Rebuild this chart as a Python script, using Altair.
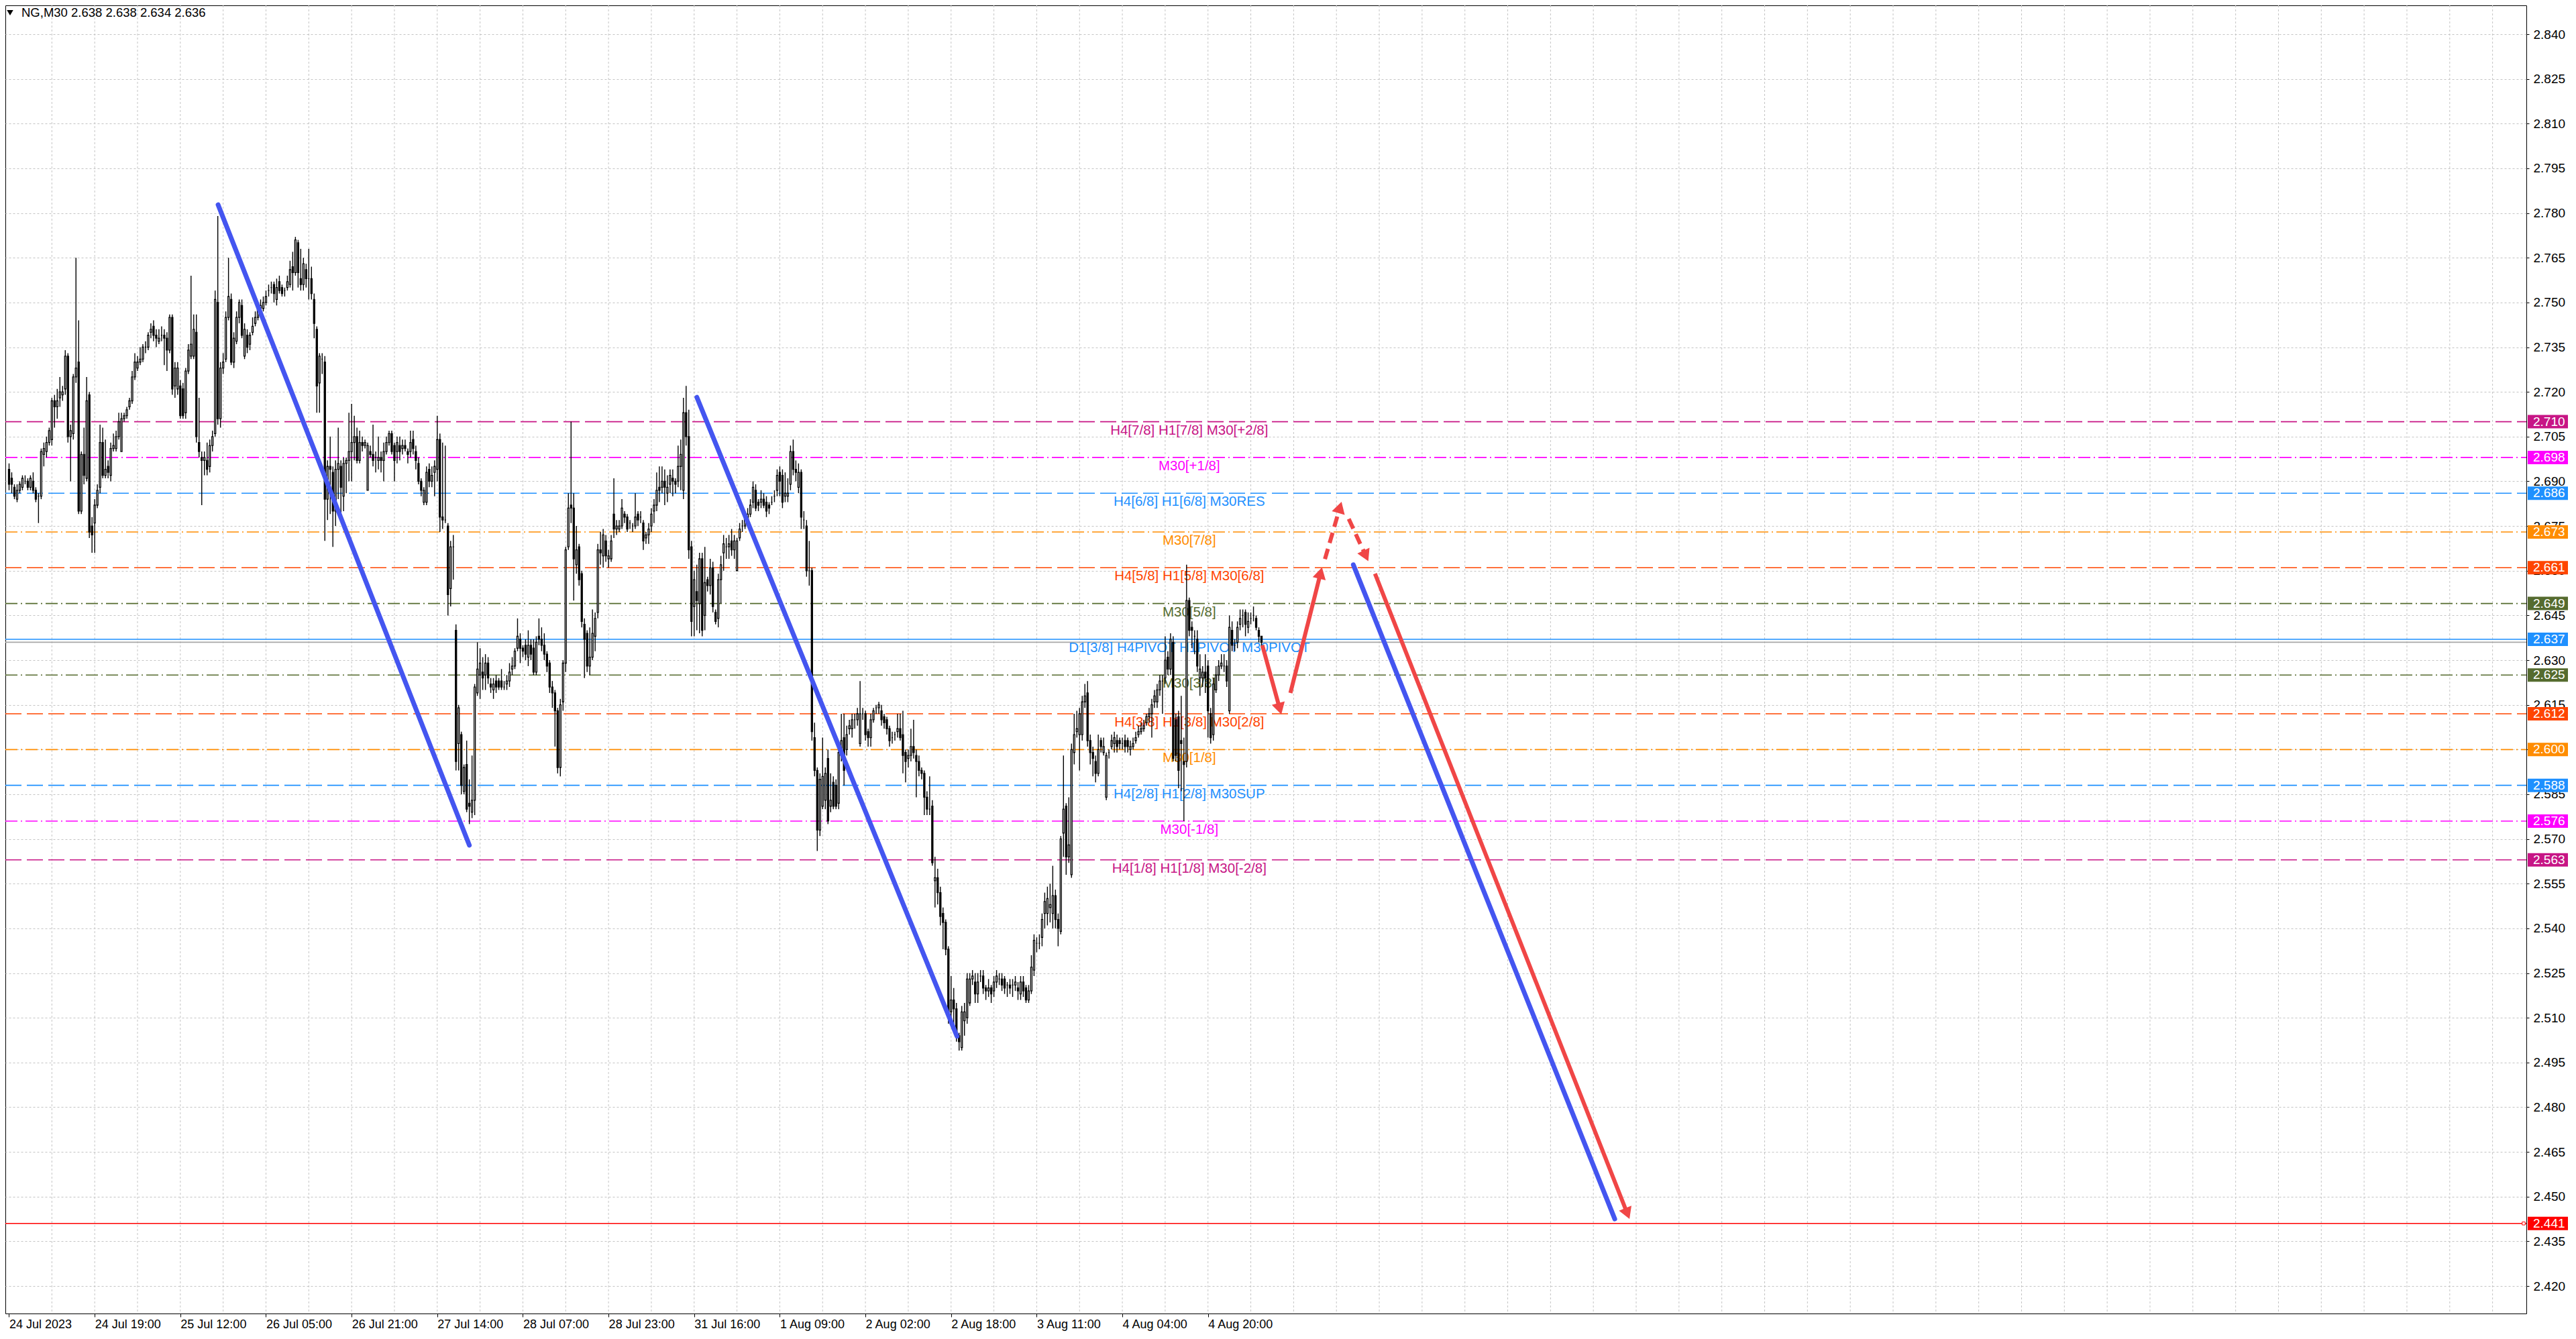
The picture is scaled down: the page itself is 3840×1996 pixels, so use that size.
import json
import math
import altair as alt
import pandas as pd

# ---------------- data ----------------
title_text = "NG,M30  2.638 2.638 2.634 2.636"

# OHLC of the M30 bars, in thousandths of a dollar (2694 = 2.694)
open_k = [
    2694, 2691, 2688, 2684, 2687, 2688, 2690, 2690, 2688, 2690,
    2687, 2685, 2685, 2699, 2700, 2703, 2704, 2717, 2715, 2718,
    2719, 2721, 2732, 2705, 2706, 2725, 2730, 2680, 2699, 2691,
    2719, 2675, 2676, 2682, 2688, 2703, 2692, 2695, 2692, 2701,
    2701, 2705, 2700, 2711, 2712, 2715, 2717, 2725, 2728, 2730,
    2731, 2735, 2735, 2740, 2742, 2739, 2737, 2739, 2739, 2738,
    2734, 2745, 2722, 2721, 2722, 2721, 2713, 2727, 2732, 2732,
    2740, 2703, 2698, 2697, 2697, 2695, 2702, 2706, 2750, 2711,
    2728, 2731, 2745, 2751, 2730, 2737, 2745, 2749, 2732, 2739,
    2736, 2740, 2743, 2745, 2748, 2748, 2750, 2754, 2755, 2756,
    2751, 2757, 2755, 2754, 2755, 2756, 2762, 2760, 2770, 2758,
    2756, 2761, 2758, 2758, 2751, 2741, 2723, 2731, 2730, 2684,
    2695, 2693, 2680, 2694, 2695, 2685, 2696, 2697, 2700, 2703,
    2705, 2697, 2703, 2702, 2687, 2700, 2699, 2698, 2697, 2698,
    2697, 2700, 2703, 2706, 2702, 2700, 2702, 2701, 2702, 2700,
    2700, 2704, 2700, 2696, 2690, 2683, 2683, 2694, 2690, 2693,
    2694, 2704, 2678, 2677, 2675, 2654, 2668, 2640, 2602, 2605,
    2586, 2595, 2582, 2579, 2583, 2619, 2625, 2626, 2625, 2629,
    2622, 2620, 2623, 2623, 2623, 2621, 2622, 2623, 2627, 2628,
    2634, 2637, 2634, 2635, 2631, 2635, 2634, 2626, 2638, 2637,
    2635, 2632, 2629, 2621, 2619, 2613, 2594, 2616, 2629, 2668,
    2682, 2681, 2662, 2668, 2659, 2642, 2639, 2628, 2631, 2638,
    2646, 2667, 2665, 2670, 2664, 2664, 2679, 2674, 2674, 2675,
    2679, 2678, 2676, 2675, 2675, 2679, 2678, 2676, 2671, 2672,
    2675, 2680, 2682, 2688, 2688, 2690, 2686, 2689, 2691, 2690,
    2690, 2695, 2687, 2713, 2705, 2668, 2648, 2653, 2649, 2664,
    2645, 2657, 2655, 2661, 2646, 2644, 2657, 2666, 2668, 2668,
    2670, 2667, 2660, 2671, 2675, 2675, 2677, 2679, 2683, 2687,
    2683, 2683, 2684, 2683, 2682, 2683, 2685, 2687, 2693, 2692,
    2685, 2685, 2689, 2700, 2694, 2688, 2693, 2677, 2675, 2660,
    2660, 2604, 2593, 2573, 2581, 2583, 2597, 2581, 2589, 2588,
    2582, 2598, 2604, 2600, 2607, 2607, 2610, 2610, 2602, 2612,
    2612, 2606, 2604, 2610, 2614, 2614, 2613, 2611, 2610, 2607,
    2604, 2605, 2606, 2607, 2605, 2599, 2597, 2598, 2601, 2598,
    2596, 2593, 2592, 2584, 2580, 2581, 2556, 2557, 2552, 2545,
    2542, 2533, 2512, 2516, 2513, 2504, 2500, 2509, 2510, 2515,
    2523, 2522, 2518, 2524, 2524, 2520, 2519, 2520, 2519, 2522,
    2523, 2523, 2523, 2521, 2521, 2521, 2521, 2520, 2518, 2522,
    2520, 2516, 2519, 2526, 2535, 2535, 2537, 2545, 2545, 2547,
    2545, 2551, 2543, 2539, 2572, 2581, 2564, 2558, 2599, 2606,
    2605, 2605, 2616, 2619, 2603, 2599, 2596, 2592, 2603, 2599,
    2584, 2599, 2601, 2602, 2603, 2603, 2602, 2603, 2603, 2600,
    2601, 2603, 2605, 2606, 2607, 2609, 2611, 2612, 2616, 2616,
    2620, 2623, 2624, 2631, 2627, 2636, 2610, 2611, 2603, 2596,
    2596, 2650, 2641, 2638, 2637, 2624, 2624, 2626, 2628, 2612,
    2605, 2620, 2625, 2628, 2628, 2628, 2613, 2640, 2635, 2636,
    2642, 2645, 2646, 2641, 2644, 2645, 2644, 2640, 2638,
]
high_k = [
    2696, 2693, 2689, 2689, 2690, 2692, 2692, 2691, 2692, 2693,
    2688, 2686, 2701, 2703, 2705, 2708, 2718, 2719, 2721, 2725,
    2722, 2734, 2733, 2709, 2726, 2765, 2744, 2700, 2708, 2725,
    2720, 2678, 2684, 2689, 2709, 2708, 2704, 2697, 2703, 2706,
    2707, 2713, 2713, 2713, 2715, 2718, 2727, 2733, 2732, 2735,
    2736, 2737, 2740, 2743, 2744, 2741, 2741, 2742, 2741, 2740,
    2746, 2746, 2730, 2730, 2724, 2723, 2728, 2736, 2759, 2746,
    2746, 2718, 2700, 2700, 2703, 2704, 2707, 2754, 2779, 2730,
    2733, 2747, 2765, 2753, 2740, 2747, 2751, 2751, 2743, 2741,
    2740, 2745, 2747, 2749, 2751, 2752, 2754, 2756, 2757, 2757,
    2758, 2759, 2756, 2755, 2759, 2764, 2767, 2772, 2771, 2768,
    2765, 2763, 2768, 2762, 2753, 2742, 2733, 2733, 2732, 2697,
    2705, 2695, 2697, 2708, 2697, 2698, 2698, 2713, 2716, 2712,
    2708, 2707, 2705, 2704, 2703, 2702, 2709, 2700, 2705, 2700,
    2703, 2705, 2707, 2707, 2703, 2705, 2705, 2704, 2704, 2701,
    2707, 2707, 2702, 2698, 2691, 2688, 2695, 2696, 2695, 2697,
    2712, 2706, 2703, 2702, 2676, 2670, 2672, 2642, 2615, 2606,
    2595, 2603, 2590, 2598, 2622, 2636, 2634, 2631, 2632, 2631,
    2624, 2624, 2625, 2624, 2627, 2623, 2625, 2629, 2631, 2634,
    2644, 2639, 2635, 2637, 2640, 2637, 2637, 2638, 2644, 2641,
    2639, 2633, 2630, 2623, 2620, 2614, 2617, 2630, 2668, 2686,
    2710, 2686, 2675, 2669, 2660, 2644, 2640, 2641, 2647, 2646,
    2669, 2673, 2674, 2672, 2667, 2672, 2691, 2677, 2677, 2684,
    2680, 2679, 2677, 2676, 2686, 2680, 2680, 2677, 2673, 2676,
    2681, 2684, 2693, 2695, 2695, 2694, 2692, 2694, 2694, 2691,
    2702, 2704, 2718, 2722, 2714, 2670, 2660, 2662, 2666, 2666,
    2668, 2658, 2664, 2663, 2647, 2659, 2665, 2672, 2671, 2672,
    2674, 2672, 2671, 2676, 2677, 2680, 2681, 2684, 2690, 2689,
    2684, 2687, 2686, 2685, 2683, 2685, 2687, 2694, 2695, 2694,
    2693, 2691, 2702, 2704, 2697, 2696, 2694, 2680, 2677, 2670,
    2661, 2609, 2594, 2592, 2604, 2594, 2600, 2592, 2591, 2590,
    2601, 2612, 2612, 2608, 2610, 2612, 2612, 2614, 2623, 2614,
    2613, 2607, 2612, 2614, 2615, 2616, 2615, 2612, 2611, 2608,
    2606, 2606, 2612, 2612, 2613, 2600, 2600, 2607, 2610, 2600,
    2598, 2594, 2593, 2586, 2591, 2583, 2564, 2560, 2554, 2547,
    2543, 2534, 2524, 2520, 2515, 2505, 2514, 2515, 2525, 2525,
    2526, 2525, 2525, 2526, 2526, 2521, 2523, 2521, 2524, 2526,
    2525, 2525, 2524, 2522, 2523, 2523, 2524, 2522, 2524, 2524,
    2521, 2521, 2531, 2538, 2537, 2538, 2545, 2552, 2554, 2555,
    2561, 2553, 2545, 2571, 2598, 2582, 2584, 2602, 2612, 2613,
    2614, 2618, 2622, 2623, 2605, 2601, 2598, 2605, 2604, 2604,
    2599, 2600, 2605, 2606, 2605, 2604, 2604, 2605, 2604, 2603,
    2604, 2606, 2608, 2609, 2610, 2612, 2614, 2617, 2620, 2622,
    2625, 2625, 2638, 2633, 2639, 2638, 2612, 2613, 2618, 2604,
    2662, 2651, 2643, 2640, 2640, 2632, 2628, 2632, 2630, 2614,
    2624, 2628, 2630, 2632, 2632, 2630, 2645, 2643, 2637, 2643,
    2647, 2647, 2647, 2646, 2646, 2648, 2645, 2641, 2638,
]
low_k = [
    2687, 2686, 2684, 2683, 2686, 2687, 2689, 2687, 2687, 2686,
    2683, 2676, 2684, 2695, 2698, 2702, 2702, 2708, 2711, 2715,
    2717, 2719, 2703, 2690, 2704, 2723, 2679, 2679, 2689, 2690,
    2671, 2666, 2666, 2681, 2686, 2691, 2691, 2691, 2690, 2700,
    2700, 2704, 2700, 2710, 2711, 2714, 2716, 2724, 2727, 2729,
    2730, 2733, 2734, 2738, 2737, 2735, 2736, 2737, 2729, 2727,
    2733, 2719, 2718, 2719, 2711, 2711, 2711, 2726, 2731, 2731,
    2703, 2698, 2682, 2692, 2692, 2693, 2700, 2705, 2709, 2708,
    2726, 2730, 2744, 2729, 2728, 2736, 2743, 2738, 2731, 2733,
    2734, 2739, 2742, 2744, 2747, 2747, 2749, 2752, 2753, 2750,
    2749, 2753, 2752, 2752, 2754, 2755, 2754, 2759, 2755, 2754,
    2754, 2755, 2751, 2751, 2738, 2713, 2713, 2726, 2670, 2677,
    2679, 2668, 2675, 2684, 2679, 2680, 2686, 2690, 2690, 2697,
    2696, 2696, 2700, 2701, 2687, 2698, 2695, 2693, 2694, 2693,
    2690, 2699, 2702, 2699, 2690, 2696, 2697, 2699, 2700, 2696,
    2698, 2699, 2694, 2689, 2685, 2682, 2682, 2688, 2688, 2685,
    2690, 2673, 2674, 2676, 2645, 2648, 2657, 2593, 2593, 2585,
    2585, 2579, 2575, 2577, 2578, 2618, 2617, 2620, 2620, 2622,
    2619, 2617, 2619, 2620, 2620, 2620, 2620, 2621, 2625, 2627,
    2633, 2629, 2631, 2630, 2628, 2630, 2625, 2625, 2635, 2633,
    2630, 2626, 2619, 2614, 2601, 2592, 2591, 2613, 2626, 2667,
    2676, 2650, 2659, 2655, 2641, 2624, 2626, 2625, 2630, 2633,
    2644, 2662, 2661, 2663, 2661, 2663, 2671, 2672, 2673, 2674,
    2676, 2673, 2674, 2673, 2674, 2675, 2676, 2667, 2669, 2669,
    2673, 2676, 2680, 2683, 2686, 2682, 2683, 2686, 2685, 2686,
    2688, 2687, 2684, 2702, 2664, 2638, 2638, 2640, 2639, 2638,
    2640, 2653, 2652, 2646, 2642, 2641, 2649, 2660, 2664, 2664,
    2665, 2664, 2660, 2670, 2673, 2674, 2675, 2678, 2681, 2680,
    2680, 2681, 2681, 2678, 2679, 2682, 2683, 2685, 2685, 2681,
    2683, 2683, 2687, 2692, 2690, 2686, 2674, 2674, 2658, 2655,
    2603, 2591, 2566, 2571, 2580, 2580, 2575, 2579, 2580, 2580,
    2580, 2596, 2588, 2598, 2605, 2604, 2607, 2608, 2601, 2610,
    2603, 2601, 2601, 2609, 2612, 2612, 2608, 2607, 2605, 2601,
    2602, 2603, 2604, 2603, 2592, 2589, 2594, 2596, 2597, 2584,
    2591, 2590, 2578, 2578, 2578, 2561, 2547, 2548, 2541, 2533,
    2531, 2508, 2510, 2505, 2502, 2499, 2499, 2504, 2508, 2514,
    2521, 2515, 2515, 2522, 2518, 2516, 2517, 2515, 2517, 2520,
    2521, 2519, 2518, 2517, 2518, 2517, 2519, 2516, 2516, 2517,
    2515, 2515, 2518, 2524, 2532, 2533, 2534, 2540, 2541, 2542,
    2540, 2540, 2534, 2538, 2564, 2558, 2562, 2557, 2595, 2604,
    2593, 2603, 2614, 2601, 2595, 2591, 2589, 2591, 2599, 2598,
    2583, 2597, 2600, 2599, 2599, 2600, 2600, 2599, 2599, 2598,
    2600, 2602, 2604, 2605, 2606, 2608, 2609, 2604, 2614, 2614,
    2618, 2612, 2622, 2625, 2625, 2596, 2596, 2587, 2586, 2576,
    2594, 2638, 2634, 2632, 2626, 2618, 2621, 2619, 2604, 2602,
    2603, 2619, 2623, 2627, 2626, 2621, 2612, 2633, 2633, 2634,
    2640, 2641, 2638, 2639, 2642, 2643, 2640, 2636, 2634,
]
close_k = [
    2689, 2689, 2685, 2687, 2689, 2691, 2690, 2688, 2691, 2687,
    2684, 2685, 2700, 2701, 2703, 2707, 2717, 2715, 2717, 2720,
    2720, 2732, 2705, 2707, 2725, 2728, 2680, 2699, 2692, 2717,
    2673, 2672, 2682, 2687, 2703, 2692, 2694, 2693, 2701, 2702,
    2705, 2710, 2711, 2712, 2714, 2717, 2725, 2730, 2730, 2731,
    2735, 2735, 2739, 2741, 2739, 2738, 2738, 2739, 2738, 2734,
    2745, 2721, 2728, 2728, 2712, 2712, 2727, 2734, 2736, 2741,
    2705, 2700, 2697, 2698, 2694, 2702, 2705, 2751, 2711, 2728,
    2730, 2745, 2752, 2730, 2738, 2745, 2750, 2739, 2741, 2735,
    2739, 2742, 2745, 2748, 2749, 2750, 2752, 2754, 2755, 2753,
    2755, 2754, 2753, 2754, 2757, 2761, 2760, 2771, 2760, 2756,
    2763, 2758, 2758, 2753, 2743, 2722, 2732, 2731, 2684, 2695,
    2694, 2680, 2694, 2696, 2688, 2696, 2697, 2700, 2703, 2705,
    2697, 2703, 2702, 2703, 2702, 2699, 2697, 2698, 2698, 2697,
    2700, 2703, 2706, 2700, 2697, 2703, 2700, 2702, 2701, 2699,
    2703, 2701, 2697, 2690, 2687, 2687, 2693, 2690, 2692, 2695,
    2704, 2678, 2677, 2677, 2652, 2668, 2668, 2596, 2614, 2588,
    2594, 2580, 2581, 2583, 2621, 2627, 2629, 2624, 2629, 2624,
    2621, 2622, 2621, 2621, 2621, 2621, 2623, 2626, 2628, 2633,
    2638, 2634, 2633, 2632, 2635, 2632, 2626, 2636, 2637, 2635,
    2632, 2628, 2621, 2619, 2613, 2594, 2615, 2629, 2667, 2681,
    2681, 2664, 2667, 2657, 2643, 2637, 2628, 2631, 2639, 2644,
    2667, 2666, 2672, 2665, 2665, 2670, 2674, 2675, 2675, 2681,
    2678, 2674, 2676, 2675, 2678, 2677, 2678, 2670, 2672, 2674,
    2679, 2682, 2687, 2687, 2690, 2688, 2688, 2692, 2690, 2689,
    2695, 2699, 2713, 2705, 2667, 2643, 2657, 2650, 2664, 2640,
    2656, 2655, 2661, 2648, 2643, 2657, 2662, 2669, 2668, 2669,
    2667, 2670, 2670, 2674, 2675, 2678, 2679, 2682, 2688, 2681,
    2682, 2684, 2682, 2680, 2681, 2683, 2685, 2692, 2690, 2683,
    2686, 2686, 2700, 2694, 2693, 2693, 2678, 2677, 2660, 2660,
    2606, 2593, 2573, 2590, 2591, 2592, 2576, 2583, 2581, 2581,
    2599, 2603, 2593, 2605, 2608, 2610, 2610, 2612, 2612, 2612,
    2605, 2604, 2610, 2613, 2614, 2615, 2610, 2609, 2607, 2603,
    2604, 2605, 2607, 2604, 2598, 2596, 2598, 2601, 2599, 2596,
    2593, 2592, 2584, 2580, 2580, 2562, 2557, 2552, 2544, 2542,
    2533, 2510, 2516, 2513, 2504, 2502, 2512, 2512, 2523, 2523,
    2524, 2518, 2522, 2524, 2520, 2519, 2520, 2518, 2522, 2524,
    2523, 2521, 2520, 2521, 2520, 2521, 2522, 2519, 2522, 2519,
    2516, 2519, 2527, 2536, 2535, 2535, 2543, 2549, 2550, 2548,
    2551, 2543, 2540, 2570, 2580, 2564, 2568, 2600, 2605, 2607,
    2612, 2616, 2618, 2603, 2599, 2597, 2592, 2600, 2601, 2601,
    2598, 2599, 2603, 2604, 2601, 2602, 2602, 2601, 2601, 2601,
    2602, 2604, 2606, 2607, 2608, 2611, 2612, 2615, 2618, 2620,
    2623, 2623, 2630, 2627, 2637, 2597, 2598, 2593, 2602, 2595,
    2650, 2640, 2640, 2638, 2628, 2627, 2626, 2624, 2613, 2604,
    2622, 2625, 2628, 2629, 2628, 2623, 2641, 2635, 2635, 2641,
    2644, 2645, 2642, 2643, 2644, 2645, 2641, 2638, 2636,
]

time_labels = ["24 Jul 2023", "24 Jul 19:00", "25 Jul 12:00", "26 Jul 05:00",
               "26 Jul 21:00", "27 Jul 14:00", "28 Jul 07:00", "28 Jul 23:00",
               "31 Jul 16:00", "1 Aug 09:00", "2 Aug 02:00", "2 Aug 18:00",
               "3 Aug 11:00", "4 Aug 04:00", "4 Aug 20:00"]
bars_per_label = 32
bars_per_grid = 16

y_ticks = [2.420, 2.435, 2.450, 2.465, 2.480, 2.495, 2.510, 2.525, 2.540, 2.555,
           2.570, 2.585, 2.600, 2.615, 2.630, 2.645, 2.660, 2.675, 2.690, 2.705,
           2.720, 2.735, 2.750, 2.765, 2.780, 2.795, 2.810, 2.825, 2.840]

level_prices = [2.710, 2.698, 2.686, 2.673, 2.661, 2.649, 2.637,
                2.625, 2.612, 2.600, 2.588, 2.576, 2.563]
level_names = ["H4[7/8] H1[7/8] M30[+2/8]", "M30[+1/8]", "H4[6/8] H1[6/8] M30RES",
               "M30[7/8]", "H4[5/8] H1[5/8] M30[6/8]", "M30[5/8]",
               "D1[3/8] H4PIVOT H1PIVOT M30PIVOT", "M30[3/8]",
               "H4[3/8] H1[3/8] M30[2/8]", "M30[1/8]", "H4[2/8] H1[2/8] M30SUP",
               "M30[-1/8]", "H4[1/8] H1[1/8] M30[-2/8]"]
level_colors = ["#C71585", "#FF00FF", "#1E90FF", "#FF8C00", "#FF4500", "#556B2F",
                "#1E90FF", "#556B2F", "#FF4500", "#FF8C00", "#1E90FF", "#FF00FF",
                "#C71585"]
level_styles = ["long", "dashdot", "long", "dashdot", "long", "dashdot", "solid",
                "dashdot", "long", "dashdot", "long", "dashdot", "long"]
level_label_bar = 441

target_price = 2.441
bid_price = 2.636

# trend lines (bar index, price)
blue_x0 = [78.1, 257.0, 502.3]
blue_y0 = [2.7828, 2.7182, 2.6620]
blue_x1 = [172.0, 354.2, 600.0]
blue_y1 = [2.5679, 2.5038, 2.4425]

red_x0 = [468.3, 478.8, 510.4]
red_y0 = [2.6350, 2.6190, 2.6590]
red_x1 = [475.4, 490.6, 605.5]
red_y1 = [2.6118, 2.6611, 2.4425]

reddash_x0 = [491.7, 500.6]
reddash_y0 = [2.6639, 2.6774]
reddash_x1 = [497.9, 507.9]
reddash_y1 = [2.6831, 2.6632]

# ---------------- layout ----------------
W, H = 3758, 1950
PXX = 4.0
PXY = 4443.0
X0 = -0.125
X1 = X0 + W / PXX
Y1 = 2.84968
Y0 = Y1 - H / PXY
FONT = "Liberation Sans"
BLUE = "#4455F0"
RED = "#F04646"

n = min(len(open_k), len(high_k), len(low_k), len(close_k))
cdf = pd.DataFrame({
    "bar": list(range(n)),
    "o": [v / 1000 for v in open_k[:n]],
    "c": [v / 1000 for v in close_k[:n]],
    "h": [max(high_k[i], open_k[i], close_k[i]) / 1000 for i in range(n)],
    "l": [min(low_k[i], open_k[i], close_k[i]) / 1000 for i in range(n)],
})

xs = alt.Scale(domain=[X0, X1], nice=False, zero=False)
ys = alt.Scale(domain=[Y0, Y1], nice=False, zero=False)

label_expr = "%s[round(datum.value / %d)]" % (json.dumps(time_labels), bars_per_label)
x_axis = alt.Axis(values=[i * bars_per_label for i in range(len(time_labels))],
                  labelExpr=label_expr, grid=False, domain=False, tickSize=5,
                  tickColor="black", tickWidth=1, labelAlign="left",
                  labelBaseline="top", labelPadding=2, labelFont=FONT,
                  labelFontSize=18, labelColor="black", labelOverlap=False,
                  labelFlush=False, labelBound=False, title=None)
y_axis = alt.Axis(orient="right", values=y_ticks, format=".3f", grid=True,
                  gridColor="#C4C4C4", gridDash=[3, 3], gridWidth=1, domain=False,
                  tickSize=4, tickColor="black", labelPadding=6, labelFont=FONT,
                  labelFontSize=19, labelColor="black", labelOverlap=False,
                  labelBound=False, labelFlush=False, title=None)


def X(f):
    return alt.X(f, type="quantitative", scale=xs, axis=x_axis)


def Y(f):
    return alt.Y(f, type="quantitative", scale=ys, axis=y_axis)


# vertical grid
vgrid = pd.DataFrame({"bar": list(range(bars_per_grid, int(X1), bars_per_grid))})
grid_layer = alt.Chart(vgrid).mark_rule(color="#C4C4C4", strokeDash=[3, 3], strokeWidth=1).encode(
    x=X("bar"), y=alt.value(0), y2=alt.value(H))

# level lines
lev = pd.DataFrame({"price": level_prices + [bid_price, target_price],
                    "color": level_colors + ["#A8A8A8", "#FF0000"],
                    "style": level_styles + ["solid", "solid"]})
level_layer = alt.Chart(lev).mark_rule(strokeWidth=1.6).encode(
    y=Y("price"), x=alt.value(0), x2=alt.value(W),
    color=alt.Color("color:N", scale=None),
    strokeDash=alt.StrokeDash("style:N", legend=None,
                              scale=alt.Scale(domain=["long", "dashdot", "solid"],
                                              range=[[24, 8], [18, 5, 2, 5], [1, 0]])))

labels_df = pd.DataFrame({"price": level_prices, "name": level_names,
                          "color": level_colors,
                          "bar": [level_label_bar] * len(level_prices)})
label_layer = alt.Chart(labels_df).mark_text(align="center", baseline="top", dy=3,
                                              font=FONT, fontSize=20.5).encode(
    x=X("bar"), y=Y("price"), text="name:N", color=alt.Color("color:N", scale=None))

# candles
wick_layer = alt.Chart(cdf).mark_rule(color="black", strokeWidth=1.4).encode(
    x=X("bar"), y=Y("l"), y2=alt.Y2("h"))
body_layer = alt.Chart(cdf).mark_bar(size=2, stroke="black", strokeWidth=1.3).encode(
    x=X("bar"), y=Y("o"), y2=alt.Y2("c"),
    fill=alt.condition("datum.c < datum.o", alt.value("black"), alt.value("white")))


# trend lines and arrows
def seg_rows(x0s, y0s, x1s, y1s, heads):
    rows, hrows = [], []
    hh = math.sqrt(3) * (math.sqrt(400) / 2) / 2
    for k in range(len(x0s)):
        x0, y0, x1, y1 = x0s[k], y0s[k], x1s[k], y1s[k]
        ex, ey = x1, y1
        if heads:
            dx = (x1 - x0) * PXX
            dy = -(y1 - y0) * PXY
            L = math.hypot(dx, dy)
            ux, uy = dx / L, dy / L
            ang = math.degrees(math.atan2(ux, -uy)) % 360.0
            hrows.append({"bar": x1 - hh * ux / PXX, "price": y1 + hh * uy / PXY, "ang": ang})
            ex = x1 - 1.5 * hh * ux / PXX
            ey = y1 + 1.5 * hh * uy / PXY
        rows.append({"seg": k, "ord": 0, "bar": x0, "price": y0})
        rows.append({"seg": k, "ord": 1, "bar": ex, "price": ey})
    return pd.DataFrame(rows), pd.DataFrame(hrows)


blue_df, _ = seg_rows(blue_x0, blue_y0, blue_x1, blue_y1, False)
red_df, red_heads = seg_rows(red_x0, red_y0, red_x1, red_y1, True)
rdash_df, rdash_heads = seg_rows(reddash_x0, reddash_y0, reddash_x1, reddash_y1, True)
heads_df = pd.concat([red_heads, rdash_heads], ignore_index=True)

blue_layer = alt.Chart(blue_df).mark_line(color=BLUE, strokeWidth=7, strokeCap="round").encode(
    x=X("bar"), y=Y("price"), detail="seg:N", order="ord:Q")
red_layer = alt.Chart(red_df).mark_line(color=RED, strokeWidth=6).encode(
    x=X("bar"), y=Y("price"), detail="seg:N", order="ord:Q")
rdash_layer = alt.Chart(rdash_df).mark_line(color=RED, strokeWidth=6, strokeDash=[16, 9]).encode(
    x=X("bar"), y=Y("price"), detail="seg:N", order="ord:Q")
head_layer = alt.Chart(heads_df).mark_point(shape="triangle-up", filled=True, size=400,
                                            color=RED, opacity=1).encode(
    x=X("bar"), y=Y("price"), angle=alt.Angle("ang:Q", scale=None))

# price badges on the right axis
bdf = pd.DataFrame({"price": level_prices + [target_price],
                    "color": level_colors + ["#FF0000"]})
bdf["txt"] = [f"{p:.3f}" for p in bdf["price"]]
bdf["lo"] = bdf["price"] - 10 / PXY
bdf["hi"] = bdf["price"] + 10 / PXY
badge_rect = alt.Chart(bdf).mark_rect().encode(
    x=alt.value(W + 2), x2=alt.value(W + 62), y=Y("lo"), y2=alt.Y2("hi"),
    color=alt.Color("color:N", scale=None))
badge_text = alt.Chart(bdf).mark_text(align="left", baseline="middle", font=FONT,
                                      fontSize=19, color="white").encode(
    x=alt.value(W + 10), y=Y("price"), text="txt:N")

tgt = pd.DataFrame({"price": [target_price]})
target_mark = alt.Chart(tgt).mark_point(shape="square", size=20, stroke="#FF0000",
                                        fill="white", filled=True, strokeWidth=1,
                                        opacity=1).encode(x=alt.value(W - 4), y=Y("price"))

tdf = pd.DataFrame({"t": [title_text]})
title_layer = alt.Chart(tdf).mark_text(align="left", baseline="alphabetic", font=FONT,
                                       fontSize=18.5, color="black").encode(
    x=alt.value(24), y=alt.value(17), text="t:N")
tri_layer = alt.Chart(tdf).mark_point(shape="triangle-down", filled=True, size=90,
                                      color="black", opacity=1).encode(
    x=alt.value(7), y=alt.value(11))

chart = alt.layer(
    grid_layer, level_layer, label_layer, wick_layer, body_layer,
    blue_layer, red_layer, rdash_layer, head_layer,
    badge_rect, badge_text, target_mark, title_layer, tri_layer,
).properties(
    width=W, height=H,
    autosize=alt.AutoSizeParams(type="none"),
    padding={"left": 0, "top": 0, "right": 64, "bottom": 26},
    background="white",
).configure_view(stroke="black", strokeWidth=1)

chart.save("out.html", embed_options={"renderer": "svg", "actions": False})
